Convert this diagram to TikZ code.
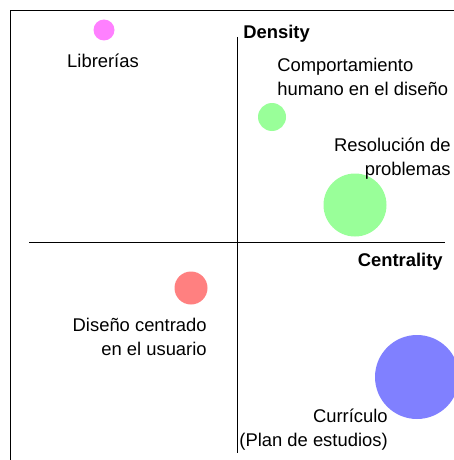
\documentclass[tikz,border=0pt]{standalone}
\usepackage{fontspec}
\setmainfont{Liberation Sans}
\definecolor{pinkbub}{HTML}{FF80FF}
\definecolor{greenbub}{HTML}{99FF99}
\definecolor{redbub}{HTML}{FF8080}
\definecolor{bluebub}{HTML}{8080FF}

\begin{document}
\begin{tikzpicture}[
                x = 1pt, y = -1pt, % one unit = one pixel, y downwards
                semithick % line style
            ]

            \tikzstyle{bubble}=[circle, inner sep = 0pt, draw = none]
            \tikzstyle{lbl}=[inner sep = 0pt, font = \fontsize{18.4}{24}\selectfont]
            \tikzstyle{axis}=[inner sep = 0pt, font = \fontsize{18.4}{24}\selectfont\bfseries]

            \useasboundingbox (0,0) rectangle (454,460);
            \fill[white] (0,0) rectangle (454,460);
            \draw (10,460) |- (454,10); % frame

            % axes
            \coordinate (top) at (237,37); \coordinate (bottom) at (237,453);
            \coordinate (left) at (29,242); \coordinate (right) at (445,242);
            \draw (top) -- (bottom); \draw (left) -- (right);
            \node (dens) [axis, anchor = base west] at (243,39) {Density};
            \node (cent) [axis, anchor = base east] at (443,266) {Centrality};

            % bubbles
            \node (lib) [bubble, fill = pinkbub, minimum size = 21pt] at (104,30) {};
            \node (comp) [bubble, fill = greenbub, minimum size = 28pt] at (272,117) {};
            \node (reso) [bubble, fill = greenbub, minimum size = 63pt] at (355,205) {};
            \node (dcu) [bubble, fill = redbub, minimum size = 33pt] at (191,288) {};
            \node (curr) [bubble, fill = bluebub, minimum size = 84pt] at (417,377) {};

            % labels (base = last line)
            \node (liblbl) [lbl, anchor = base] at (103,67) {Librerías};
            \node (complbl) [lbl, anchor = base west, align = left] at (277,95)
            {Comportamiento\\humano en el diseño};
            \node (resolbl) [lbl, anchor = base east, align = right] at (451,175)
            {Resolución de\\problemas};
            \node (dculbl) [lbl, anchor = base east, align = right] at (207,355)
            {Diseño centrado\\en el usuario};
            \node (currlbl) [lbl, anchor = base east, align = right] at (388,446)
            {Currículo\\(Plan de estudios)};

        \end{tikzpicture}
\end{document}
